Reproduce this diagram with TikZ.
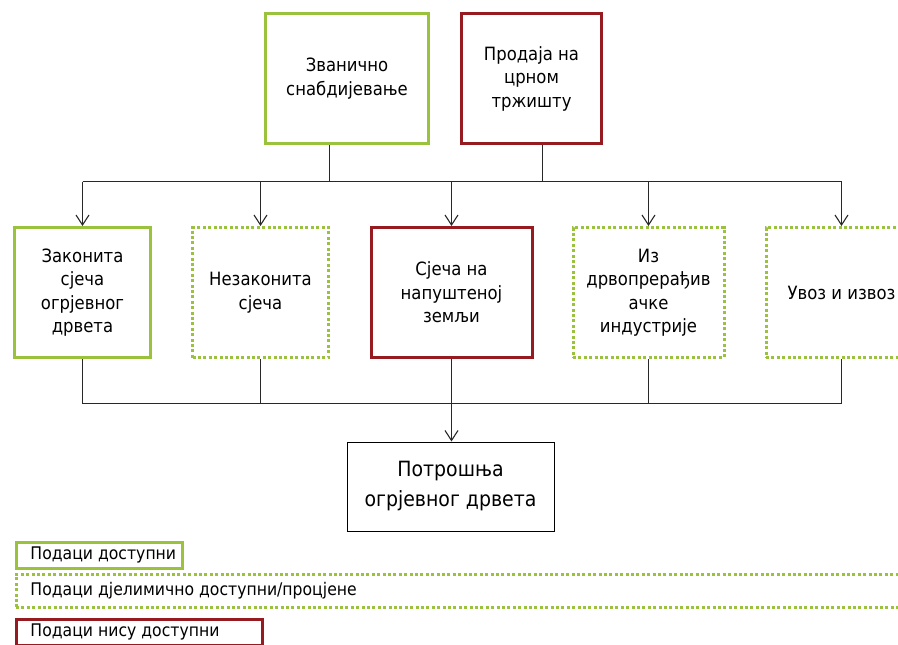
\documentclass[tikz,border=0pt]{standalone}
\usepackage{fontspec}
\setmainfont{DejaVu Sans}[FakeStretch=0.9]
\usetikzlibrary{arrows.meta}
\definecolor{okgreen}{RGB}{154,194,60}
\definecolor{nored}{RGB}{150,27,32}
\definecolor{wire}{RGB}{40,40,40}
\newcommand{\legtext}[2]{\makebox[#1][l]{#2}}
\begin{document}
\begin{tikzpicture}[x=1pt,y=-1pt,
  box/.style={draw, line width=3pt, inner sep=0pt, align=center,
    font=\fontsize{18.3}{23.5}\selectfont},
  available/.style={box, draw=okgreen},
  partial/.style={box, draw=okgreen, dash pattern=on 3pt off 2.4pt},
  missing/.style={box, draw=nored},
  result/.style={draw=black, line width=1pt, inner sep=0pt, align=center,
    font=\fontsize{21}{30}\selectfont},
  legendbox/.style={inner xsep=13pt, inner ysep=0pt, anchor=west,
    font=\fontsize{17.4}{20}\selectfont},
  wirestyle/.style={draw=wire, line width=1.1pt},
  arrowstyle/.style={wirestyle, -{Straight Barb[length=10pt,width=13pt,line width=1.1pt]}}
]
\useasboundingbox (0,0) rectangle (898,645);
\clip (0,0) rectangle (898,645);

% sources
\node[available, minimum width=163pt, minimum height=130pt] (zvan) at (347,78.5)
  {Званично\\снабдијевање};
\node[missing, minimum width=140pt, minimum height=130pt] (crno) at (531.5,78.5)
  {Продаја на\\црном\\тржишту};

% supply channels
\node[available, minimum width=136pt, minimum height=130pt] (zak) at (82.5,292.5)
  {Законита\\сјеча\\огрјевног\\дрвета};
\node[partial, minimum width=136pt, minimum height=130pt] (nez) at (260.5,292.5)
  {Незаконита\\сјеча};
\node[missing, minimum width=161pt, minimum height=130pt] (nap) at (451.5,292.5)
  {Сјеча на\\напуштеној\\земљи};
\node[partial, minimum width=151pt, minimum height=130pt] (ind) at (648.5,292.5)
  {Из\\дрвопрерађив\\ачке\\индустрије};
\node[partial, minimum width=151pt, minimum height=130pt] (uvoz) at (841.5,292.5)
  {Увоз и извоз};

% consumption
\node[result, minimum width=207pt, minimum height=89pt] (potr) at (450.5,486.5)
  {Потрошња\\огрјевног дрвета};

% distribution buses
\coordinate (busTopL) at (82.5,181.5);
\coordinate (busTopR) at (841.5,181.5);
\coordinate (busBotL) at (82.5,403.5);
\coordinate (busBotR) at (841.5,403.5);
\coordinate (tapA) at (329.5,181.5);
\coordinate (tapB) at (542.5,181.5);

\draw[wirestyle] (busTopL) -- (busTopR);
\draw[wirestyle] (tapA |- zvan.south) -- (tapA);
\draw[wirestyle] (tapB |- crno.south) -- (tapB);
\foreach \n in {zak,nez,nap,ind,uvoz}
  \draw[arrowstyle] (\n.north |- busTopL) -- (\n.north);

\draw[wirestyle] (busBotL) -- (busBotR);
\foreach \n in {zak,nez,ind,uvoz}
  \draw[wirestyle] (\n.south) -- (\n.south |- busBotL);
\draw[arrowstyle] (nap.south) -- (nap.south |- potr.north);

% legend
\node[available, legendbox, minimum width=166pt, minimum height=26pt] (leg1)
  at (14.5,555) {\legtext{137pt}{Подаци доступни}};
\node[partial, legendbox, minimum width=900pt, minimum height=33pt] (leg2)
  at (14.5,591) {\legtext{871pt}{Подаци дјелимично доступни/процјене}};
\node[missing, legendbox, minimum width=246pt, minimum height=26pt] (leg3)
  at (14.5,632) {\legtext{217pt}{Подаци нису доступни}};
\end{tikzpicture}
\end{document}
